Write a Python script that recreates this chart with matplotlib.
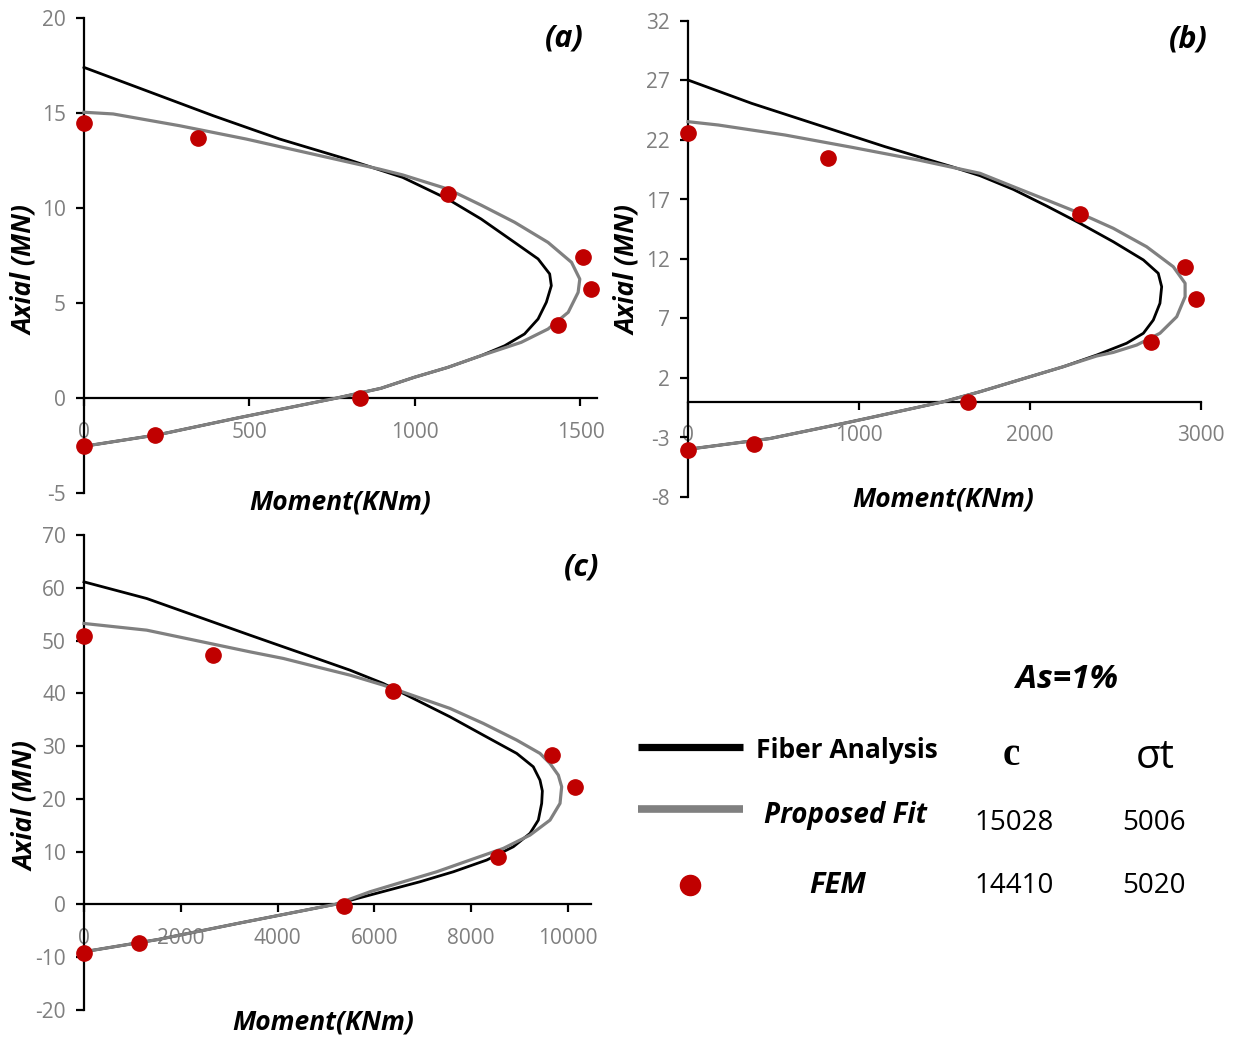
import matplotlib
matplotlib.use("Agg")
import matplotlib.pyplot as plt
from matplotlib.lines import Line2D

plt.rcParams['font.family'] = ['Open Sans', 'DejaVu Sans']
plt.rcParams['axes.unicode_minus'] = False

# ---------------- Panel (a) ----------------
a_fiber_m = [0, 189, 390, 591, 792, 963, 1099, 1200, 1301, 1372, 1407, 1412, 1397, 1372, 1331, 1271, 1200, 1099, 998, 897, 764, 464, 225, 0]
a_fiber_n = [17.4, 16.17, 14.86, 13.63, 12.58, 11.61, 10.47, 9.42, 8.19, 7.32, 6.53, 5.91, 5.04, 4.16, 3.37, 2.75, 2.23, 1.61, 1.09, 0.51, 0.0, -1.05, -1.93, -2.54]
a_fit_m = [0, 88, 289, 490, 691, 892, 963, 1099, 1200, 1301, 1402, 1473, 1498, 1493, 1463, 1402, 1321, 1200, 1099, 998, 897, 764, 464, 225, 0]
a_fit_n = [15.04, 14.95, 14.33, 13.63, 12.84, 12.05, 11.74, 11.0, 10.15, 9.25, 8.19, 7.14, 6.26, 5.56, 4.51, 3.63, 2.93, 2.23, 1.61, 1.09, 0.51, 0.0, -1.05, -1.93, -2.54]
a_fem_m = [0, 345, 1099, 1508, 1533, 1432, 833, 215, 0]
a_fem_n = [14.5, 13.7, 10.74, 7.4, 5.74, 3.86, 0.0, -1.95, -2.5]

# ---------------- Panel (b) ----------------
b_fiber_m = [0, 372, 762, 1152, 1542, 1708, 1902, 2098, 2292, 2487, 2663, 2750, 2770, 2760, 2721, 2663, 2565, 2390, 2195, 2000, 1708, 1492, 950, 478, 0]
b_fiber_n = [27.04, 25.08, 23.26, 21.44, 19.76, 19.0, 17.85, 16.45, 15.0, 13.45, 11.92, 10.8, 9.67, 8.28, 6.87, 5.76, 4.92, 3.93, 2.95, 2.11, 0.85, 0.0, -1.69, -3.09, -3.99]
b_fit_m = [0, 177, 567, 957, 1347, 1708, 1902, 2098, 2292, 2487, 2682, 2838, 2907, 2907, 2858, 2760, 2624, 2487, 2390, 2195, 2000, 1708, 1492, 950, 478, 0]
b_fit_n = [23.54, 23.26, 22.42, 21.39, 20.32, 19.2, 18.08, 16.96, 15.84, 14.58, 13.03, 11.35, 9.96, 8.83, 7.15, 5.76, 4.77, 4.15, 3.85, 2.95, 2.11, 0.85, 0.0, -1.69, -3.09, -3.99]
b_fem_m = [0, 820, 2290, 2905, 2968, 2710, 1640, 384, 0]
b_fem_n = [22.55, 20.45, 15.75, 11.35, 8.65, 5.0, 0.0, -3.51, -4.07]

# ---------------- Panel (c) ----------------
c_fiber_m = [0, 1295, 3430, 4118, 4807, 5496, 6184, 6391, 6873, 7562, 8250, 8940, 9283, 9421, 9470, 9456, 9387, 9215, 8870, 8320, 7631, 6942, 5909, 5217, 3173, 1537, 0]
c_fiber_n = [61.12, 57.97, 51.02, 48.81, 46.61, 44.39, 41.87, 40.93, 38.71, 35.55, 32.08, 28.62, 26.08, 23.56, 21.5, 19.15, 15.98, 13.47, 10.93, 8.41, 6.19, 4.3, 1.78, 0.07, -3.6, -6.63, -8.96]
c_fit_m = [0, 1295, 3430, 4118, 4807, 5496, 6184, 6873, 7562, 8250, 8940, 9421, 9628, 9800, 9869, 9835, 9628, 9215, 8664, 7975, 7287, 6598, 5909, 5217, 3173, 1537, 0]
c_fit_n = [53.24, 51.97, 47.86, 46.61, 45.02, 43.45, 41.55, 39.34, 37.14, 34.3, 31.14, 28.62, 26.72, 24.5, 22.29, 19.15, 15.98, 13.14, 10.62, 8.41, 6.19, 4.3, 2.4, 0.07, -3.6, -6.63, -8.96]
c_fem_m = [0, 2672, 6391, 9663, 10145, 8560, 5380, 1128, 0]
c_fem_n = [50.86, 47.2, 40.5, 28.3, 22.3, 9.0, -0.25, -7.38, -9.15]

# Axis ticks
a_xticks = [0, 500, 1000, 1500]
a_yticks = [-5, 0, 5, 10, 15, 20]
b_xticks = [0, 1000, 2000, 3000]
b_yticks = [-8, -3, 2, 7, 12, 17, 22, 27, 32]
c_xticks = [0, 2000, 4000, 6000, 8000, 10000]
c_yticks = [-20, -10, 0, 10, 20, 30, 40, 50, 60, 70]

# Table values
col_headers = ["c", "σt"]
fit_values = [15028, 5006]
fem_values = [14410, 5020]
series_names = ["Fiber Analysis", "Proposed Fit", "FEM"]

BLACK = "#000000"
GRAY = "#808080"
RED = "#c00000"
TICK_GRAY = "#7f7f7f"

W, H = 1238, 1041
fig = plt.figure(figsize=(W / 100, H / 100), dpi=100)


def px_axes(left, top, right, bottom):
    return fig.add_axes([left / W, 1 - bottom / H, (right - left) / W, (bottom - top) / H])


def style(ax, xticks, yticks, xlim, ylim):
    ax.set_xlim(*xlim)
    ax.set_ylim(*ylim)
    ax.set_xticks(xticks)
    ax.set_yticks(yticks)
    for s in ("top", "right"):
        ax.spines[s].set_visible(False)
    ax.spines["bottom"].set_position(("data", 0))
    for s in ("left", "bottom"):
        ax.spines[s].set_linewidth(1.6)
        ax.spines[s].set_color("black")
    ax.tick_params(axis="both", direction="out", length=6, width=1.6, color="black",
                   labelcolor=TICK_GRAY, labelsize=15)
    ax.tick_params(axis="x", pad=11)
    ax.tick_params(axis="y", pad=7)
    ax.patch.set_visible(False)


def draw(ax, fm, fn, pm, pn, em, en):
    ax.plot(fm, fn, color=BLACK, lw=2.0, solid_joinstyle="round", zorder=3, clip_on=False)
    ax.plot(pm, pn, color=GRAY, lw=2.3, solid_joinstyle="round", zorder=4, clip_on=False)
    ax.plot(em, en, linestyle="none", marker="o", ms=11, color=RED, zorder=5, clip_on=False)


def labels(ax, tag, tag_xy, xl_xy, yl_xy):
    ax.text(*tag_xy, tag, transform=ax.transAxes, ha="center", va="center",
            fontsize=22, fontweight="bold", fontstyle="italic")
    ax.text(*xl_xy, "Moment(KNm)", transform=ax.transAxes, ha="center", va="center",
            fontsize=19, fontweight="bold", fontstyle="italic")
    ax.text(*yl_xy, "Axial (MN)", transform=ax.transAxes, ha="center", va="center",
            rotation=90, fontsize=19, fontweight="bold", fontstyle="italic")


ax_a = px_axes(84, 18, 597, 493)
style(ax_a, a_xticks, a_yticks, (0, 1550), (-5, 20))
draw(ax_a, a_fiber_m, a_fiber_n, a_fit_m, a_fit_n, a_fem_m, a_fem_n)
labels(ax_a, "(a)", (0.936, 0.957), (0.499, -0.019), (-0.115, 0.469))

ax_b = px_axes(688, 21, 1201, 497)
style(ax_b, b_xticks, b_yticks, (0, 3000), (-8, 32))
draw(ax_b, b_fiber_m, b_fiber_n, b_fit_m, b_fit_n, b_fem_m, b_fem_n)
labels(ax_b, "(b)", (0.975, 0.962), (0.497, -0.004), (-0.117, 0.477))

ax_c = px_axes(84, 535, 591, 1010)
style(ax_c, c_xticks, c_yticks, (0, 10475), (-20, 70))
draw(ax_c, c_fiber_m, c_fiber_n, c_fit_m, c_fit_n, c_fem_m, c_fem_n)
labels(ax_c, "(c)", (0.982, 0.932), (0.471, -0.025), (-0.116, 0.43))

# ---------------- Key and parameter table ----------------
key = fig.add_axes([0, 0, 1, 1])
key.set_xlim(0, W)
key.set_ylim(H, 0)
key.axis("off")
key.patch.set_visible(False)

key.text(1067, 688, "As=1%", ha="center", va="baseline", fontsize=24,
         fontweight="bold", fontstyle="italic")

key.add_line(Line2D([638, 743], [746.5, 746.5], color=BLACK, lw=5.2, solid_capstyle="butt"))
key.add_line(Line2D([638, 743], [809, 809], color=GRAY, lw=5.5, solid_capstyle="butt"))
key.plot([690], [885], marker="o", ms=14.5, color=RED, linestyle="none")

key.text(756, 758, series_names[0], ha="left", va="baseline", fontsize=19, fontweight="bold")
key.text(845, 823, series_names[1], ha="center", va="baseline", fontsize=20,
         fontweight="bold", fontstyle="italic")
key.text(838, 893, series_names[2], ha="center", va="baseline", fontsize=21,
         fontweight="bold", fontstyle="italic")

key.text(1011, 765, col_headers[0], ha="center", va="baseline", fontsize=28,
         fontweight="bold", family=["Liberation Serif", "DejaVu Serif"])
key.text(1155, 768, col_headers[1], ha="center", va="baseline", fontsize=29)

for x, v in zip([1014, 1154], fit_values):
    key.text(x, 830, str(v), ha="center", va="baseline", fontsize=20)
for x, v in zip([1014, 1154], fem_values):
    key.text(x, 893, str(v), ha="center", va="baseline", fontsize=20)

fig.savefig("out.png", dpi=100)
